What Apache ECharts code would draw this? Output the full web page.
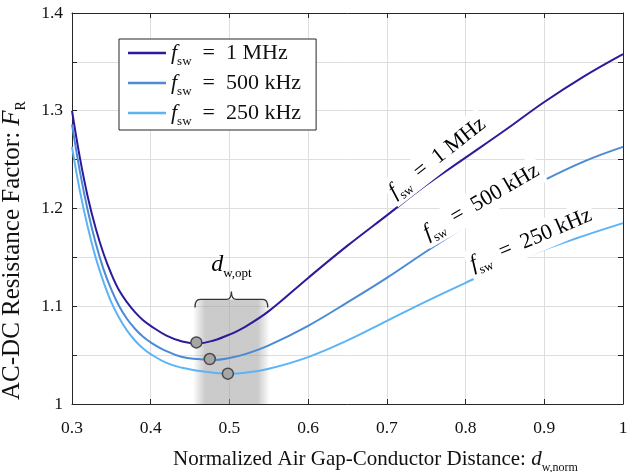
<!DOCTYPE html>
<html><head><meta charset="utf-8">
<script src="https://cdn.jsdelivr.net/npm/echarts@6/dist/echarts.min.js"></script>
<style>html,body{margin:0;padding:0;background:#fff}#c{width:627px;height:472px}</style>
</head><body><div id="c"></div>
<script>
// ---- data ----
const dNorm    = [0.30,0.31,0.32,0.33,0.34,0.35,0.36,0.37,0.38,0.39,0.40,0.42,0.44,0.46,0.48,0.50,0.52,0.55,0.60,0.65,0.70,0.75,0.80,0.85,0.90,0.95,1.00];
const fr1MHz   = [1.300,1.252,1.212,1.180,1.154,1.133,1.116,1.104,1.094,1.086,1.080,1.070,1.064,1.062,1.065,1.071,1.079,1.095,1.129,1.162,1.193,1.224,1.252,1.280,1.309,1.335,1.358];
const fr500kHz = [1.286,1.238,1.198,1.165,1.138,1.117,1.100,1.087,1.077,1.069,1.063,1.054,1.048,1.046,1.045,1.047,1.051,1.060,1.080,1.104,1.129,1.156,1.182,1.207,1.229,1.248,1.263];
const fr250kHz = [1.263,1.218,1.181,1.150,1.125,1.104,1.088,1.075,1.065,1.057,1.051,1.042,1.037,1.034,1.032,1.031,1.032,1.036,1.048,1.065,1.085,1.105,1.124,1.142,1.158,1.172,1.185];
const freqLabels = ['1 MHz','500 kHz','250 kHz'];
const optX = [0.458,0.475,0.498];
const optY = [1.063,1.046,1.031];
const optRange = [0.455,0.55];
const xTickLabels = ['0.3','0.4','0.5','0.6','0.7','0.8','0.9','1'];
const yTickLabels = ['1','1.1','1.2','1.3','1.4'];

// ---- styling ----
const FONT = "'Liberation Serif','DejaVu Serif',serif";
const colors = ['#2b1b9a','#4b8ad4','#5cb4f5'];
const frame = '#262626';
const gridC = '#dedede';
const richF = (fs, sub, extra) => ({
  it:{fontFamily:FONT,fontStyle:'italic',fontSize:fs,color:'#111',lineHeight:fs+(extra||8)},
  n:{fontFamily:FONT,fontSize:fs,color:'#111',lineHeight:fs+(extra||8)},
  sub:{fontFamily:FONT,fontSize:sub,color:'#111',verticalAlign:'bottom',lineHeight:sub}
});
const fsw = name => '{it|f}{sub|sw}{n|\u2002=\u2002' + name + '}';

// annotation placement (data coordinates) for inline labels
const inlineLab = [
  {x:0.764,y:1.252,rot:38},
  {x:0.820,y:1.207,rot:30},
  {x:0.883,y:1.168,rot:23}
];

const chart = echarts.init(document.getElementById('c'));
const mk = arr => dNorm.map((x,i)=>[x,arr[i]]);

const series = [
  {name:'band',type:'line',data:[],z:1,silent:true,
   markArea:{silent:true,itemStyle:{color:new echarts.graphic.LinearGradient(0,0,1,0,[
     {offset:0,color:'rgba(160,160,160,0.05)'},{offset:0.15,color:'rgba(160,160,160,0.55)'},
     {offset:0.85,color:'rgba(160,160,160,0.55)'},{offset:1,color:'rgba(160,160,160,0.05)'}])},
     data:[[{xAxis:optRange[0],yAxis:1.0},{xAxis:optRange[1],yAxis:1.107}]]}},
];
[fr1MHz,fr500kHz,fr250kHz].forEach((arr,i)=>{
  series.push({name:freqLabels[i],type:'line',data:mk(arr),smooth:0.4,symbol:'none',z:3,
    lineStyle:{color:colors[i],width:2},itemStyle:{color:colors[i]}});
});
series.push({name:'opt',type:'scatter',z:5,data:optX.map((x,i)=>[x,optY[i]]),symbolSize:11,
  itemStyle:{color:'#a6a6a6',borderColor:'#4a4a4a',borderWidth:1.5,opacity:1}});
// brace + label
series.push({name:'brace',type:'custom',z:6,silent:true,data:[[optRange[0],optRange[1],1.107]],
  renderItem:(params,api)=>{
    const a = api.coord([api.value(0),api.value(2)]);
    const b = api.coord([api.value(1),api.value(2)]);
    const y=a[1], x0=a[0]+1, x1=b[0]-1, xc=(x0+x1)/2, h=8, r=5;
    const d = `M${x0},${y+h} Q${x0},${y} ${x0+r},${y} L${xc-r},${y} Q${xc},${y} ${xc},${y-h} Q${xc},${y} ${xc+r},${y} L${x1-r},${y} Q${x1},${y} ${x1},${y+h}`;
    const t = api.coord([(api.value(0)+api.value(1))/2, 1.143]);
    return {type:'group',children:[
      {type:'path',shape:{pathData:d},style:{fill:null,stroke:'#333',lineWidth:1.3}},
      {type:'text',x:t[0],y:t[1],style:{text:'{it|d}{sub|w,opt}',rich:richF(24,13),align:'center',verticalAlign:'middle'}}
    ]};
  }});
series.push({name:'inline',type:'custom',z:7,silent:true,data:freqLabels.map((f,i)=>[inlineLab[i].x,inlineLab[i].y,inlineLab[i].rot,i]),
  renderItem:(params,api)=>{
    const p = api.coord([api.value(0),api.value(1)]);
    const i = api.value(3);
    return {type:'text',x:p[0],y:p[1],rotation:api.value(2)*Math.PI/180,
      style:{text:fsw(freqLabels[i]),rich:richF(22,13),align:'center',verticalAlign:'middle',backgroundColor:'#fff',padding:[0,3]}};
  }});

const axisCommon = {
  axisLine:{show:true,onZero:false,lineStyle:{color:frame,width:1}},
  axisTick:{show:true,inside:true,length:5,lineStyle:{color:frame}},
};
const fmtX = v => xTickLabels.find(l=>Math.abs(parseFloat(l)-v)<1e-6) || '';
const fmtY = v => yTickLabels.find(l=>Math.abs(parseFloat(l)-v)<1e-6) || '';

chart.setOption({
  animation:false,
  backgroundColor:'#fff',
  grid:{left:72,right:4,top:13,bottom:68,containLabel:false,outerBoundsMode:'none'},
  xAxis:[
    Object.assign({type:'value',min:0.3,max:1,interval:0.1,position:'bottom',
      splitLine:{show:true,lineStyle:{color:gridC,width:1}},
      axisLabel:{formatter:fmtX,fontFamily:FONT,fontSize:17.5,color:'#111',margin:15,showMinLabel:true,showMaxLabel:true},
      name:'{n|Normalized Air Gap-Conductor Distance: }{it|d}{sub|w,norm}',nameLocation:'middle',nameGap:41,
      nameTextStyle:{rich:richF(21,12),padding:[0,0,0,56]}},axisCommon),
    Object.assign({type:'value',min:0.3,max:1,interval:0.1,position:'top',axisLabel:{show:false},splitLine:{show:false}},axisCommon)
  ],
  yAxis:[
    Object.assign({type:'value',min:1,max:1.4,interval:0.05,position:'left',
      splitLine:{show:true,lineStyle:{color:gridC,width:1}},
      axisLabel:{formatter:fmtY,fontFamily:FONT,fontSize:17.5,color:'#111',margin:9,showMinLabel:true,showMaxLabel:true},
      name:'{n|AC-DC Resistance Factor: }{it|F}{sub|R}',nameLocation:'middle',nameGap:44,
      nameTextStyle:{rich:richF(25,14,6),padding:[0,84,0,0]}},axisCommon),
    Object.assign({type:'value',min:1,max:1.4,interval:0.05,position:'right',axisLabel:{show:false},splitLine:{show:false}},axisCommon)
  ],
  legend:{
    data:freqLabels,orient:'vertical',left:119,top:39,icon:'rect',
    backgroundColor:'#fff',borderColor:frame,borderWidth:1,borderRadius:0,padding:[3,15,2,9],
    itemWidth:38,itemHeight:2.5,itemGap:4,
    formatter:fsw,
    textStyle:{rich:richF(22,13,8)}
  },
  series
});
</script></body></html>
